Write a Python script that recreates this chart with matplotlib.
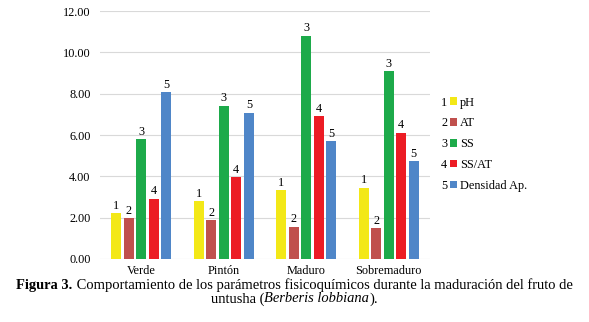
import numpy as np
import matplotlib.pyplot as plt

etapas = ['Verde', 'Pintón', 'Maduro', 'Sobremaduro']
parametros = ['pH', 'AT', 'SS', 'SS/AT', 'Densidad Ap.']
ph = [2.23, 2.79, 3.34, 3.45]
at = [1.98, 1.89, 1.56, 1.49]
ss = [5.80, 7.42, 10.80, 9.08]
ss_at = [2.92, 3.95, 6.92, 6.11]
densidad = [8.06, 7.08, 5.71, 4.74]
series = [ph, at, ss, ss_at, densidad]
colores = ['#F3E817', '#C0504D', '#1DAA4A', '#EC1C24', '#4F86C8']

plt.rcParams['font.family'] = ['Liberation Serif', 'DejaVu Serif']
fig = plt.figure(figsize=(5.89, 3.22), dpi=100)
ax = fig.add_axes([0.170, 0.1957, 0.560, 0.770])

x = np.arange(len(etapas))
slot = 0.152
ancho = 0.122
for i, (vals, col) in enumerate(zip(series, colores)):
    b = ax.bar(x + (i - 2) * slot, vals, ancho, color=col, label=parametros[i], zorder=3)
    ax.bar_label(b, labels=[str(i + 1)] * len(vals), padding=1, fontsize=8.8)

ax.set_xlim(-0.5, 3.5)
ax.set_ylim(0, 12)
ax.set_yticks(np.arange(0, 12.1, 2))
ax.set_yticklabels([f'{v:.2f}' for v in np.arange(0, 12.1, 2)])
ax.set_xticks(x)
ax.set_xticklabels(etapas)
ax.tick_params(length=0, labelsize=8.8, pad=7)
ax.tick_params(axis='x', pad=4)
ax.grid(axis='y', color='#D9D9D9', linewidth=0.8, zorder=0)
for s in ax.spines.values():
    s.set_visible(False)

leg = ax.legend(loc='upper left', bbox_to_anchor=(1.046, 0.675), frameon=False,
                handlelength=0.6, handleheight=0.6, handletextpad=0.2,
                labelspacing=0.72, fontsize=8.8, borderaxespad=0)

# numeros delante de cada entrada de la leyenda
fig.canvas.draw()
r = fig.canvas.get_renderer()
for i, t in enumerate(leg.get_texts()):
    bb = t.get_window_extent(r)
    yc = (bb.y0 + bb.y1) / 2 / fig.bbox.height
    fig.text(441 / 589, yc, str(i + 1), fontsize=8.8, va='center', ha='left')

# pie de figura
fs = 10.45
y1 = 1 - 285 / 322
y2 = 1 - 299 / 322
t1 = fig.text(0, y1, 'Figura 3.', fontweight='bold', fontsize=fs, va='center')
t2 = fig.text(0, y1, ' Comportamiento de los parámetros fisicoquímicos durante la maduración del fruto de',
              fontsize=fs, va='center')
fig.canvas.draw()
w1 = t1.get_window_extent(r).width / fig.bbox.width
w2 = t2.get_window_extent(r).width / fig.bbox.width
x0 = 0.5 - (w1 + w2) / 2
t1.set_x(x0)
t2.set_x(x0 + w1)

p1 = fig.text(0, y2, 'untusha (', fontsize=fs, va='center')
p2 = fig.text(0, y2, 'Berberis lobbiana', fontsize=fs, style='italic', va='center')
p3 = fig.text(0, y2, ').', fontsize=fs, va='center')
fig.canvas.draw()
ws = [p.get_window_extent(r).width / fig.bbox.width for p in (p1, p2, p3)]
xs = 0.5 - sum(ws) / 2
for p, w in zip((p1, p2, p3), ws):
    p.set_x(xs)
    xs += w

fig.savefig('out.png', dpi=100)
